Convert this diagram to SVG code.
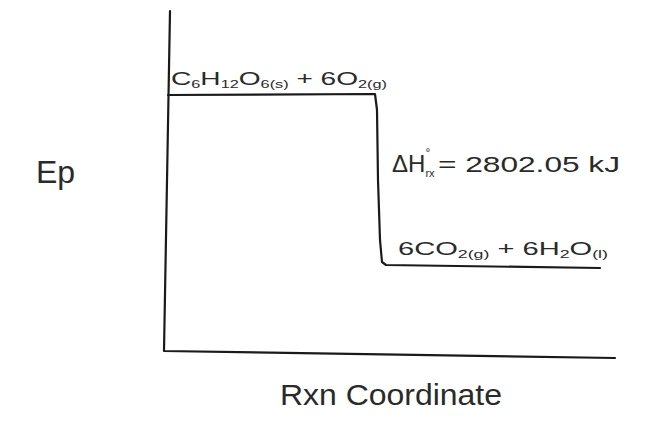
<svg xmlns="http://www.w3.org/2000/svg" width="660" height="431" viewBox="0 0 660 431">
<style>
.ln{fill:none;stroke:#1a1a1a;stroke-width:2.2;stroke-linecap:round;stroke-linejoin:round}
.t{font-family:"Liberation Sans","DejaVu Sans",sans-serif;fill:#2a2a2a}
.sub{font-size:11px}
</style>
<rect width="660" height="431" fill="#ffffff"/>
<g id="axes">
<path class="ln" d="M170,11 L164,351 L615,358"/>
</g>
<g id="axis-labels">
<text class="t" x="36" y="183" font-size="32">Ep</text>
<text class="t" x="280" y="405" font-size="30" textLength="222" lengthAdjust="spacingAndGlyphs">Rxn Coordinate</text>
</g>
<g id="reactants">
<text class="t" x="171" y="85" font-size="19" textLength="216" lengthAdjust="spacingAndGlyphs">C<tspan class="sub" dy="3">6</tspan><tspan dy="-3">H</tspan><tspan class="sub" dy="3">12</tspan><tspan dy="-3">O</tspan><tspan class="sub" dy="3">6(s)</tspan><tspan dy="-3"> + 6O</tspan><tspan class="sub" dy="3">2(g)</tspan></text>
</g>
<g id="products">
<text class="t" x="398" y="255" font-size="18" textLength="210" lengthAdjust="spacingAndGlyphs">6CO<tspan class="sub" dy="3">2(g)</tspan><tspan dy="-3"> + 6H</tspan><tspan class="sub" dy="3">2</tspan><tspan dy="-3">O</tspan><tspan class="sub" dy="3">(l)</tspan></text>
</g>
<g id="enthalpy">
<text class="t" x="392" y="172" style="font-size:24px">ΔH<tspan style="font-size:11px" dy="5">rx</tspan><tspan style="font-size:12px" dx="-9" dy="-20">°</tspan></text>
<text class="t" x="438" y="172" style="font-size:22px" textLength="182" lengthAdjust="spacingAndGlyphs">= 2802.05 kJ</text>
</g>
<g id="connectors">
<path class="ln" d="M168,95 L375,94 L377,110 L378,180 L380,240 L382,262 L386,265 L600,268"/>
</g>
</svg>
